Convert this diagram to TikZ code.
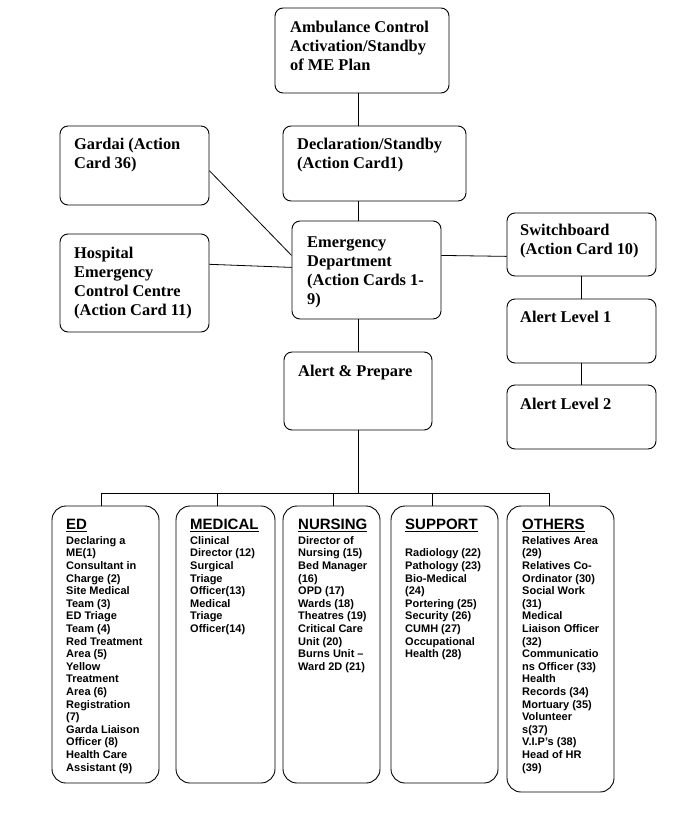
\documentclass[tikz,border=0pt]{standalone}
\usepackage{fontspec}
\setmainfont{Liberation Serif}
\setsansfont{Liberation Sans}
\begin{document}
\begin{tikzpicture}[x=1pt,y=-1pt,
  box/.style={draw, line width=0.9pt, rounded corners=8pt, inner sep=0pt},
  bbox/.style={draw, line width=0.9pt, rounded corners=14pt, inner sep=0pt},
  ttxt/.style={anchor=north west, inner sep=0pt, align=left, font=\fontsize{16.4}{19.2}\selectfont\bfseries},
  htxt/.style={anchor=base west, inner sep=0pt, font=\fontsize{15}{15}\selectfont\sffamily\bfseries},
  btxt/.style={anchor=north west, inner sep=0pt, align=left, font=\fontsize{11}{12.6}\selectfont\sffamily\bfseries},
  conn/.style={line width=0.8pt}]
\fill[white] (0,0) rectangle (680,825);
\useasboundingbox (0,0) rectangle (680,825);

% top boxes
\node[box, minimum width=174pt, minimum height=85pt] (amb) at (362,50.5) {};
\node[box, minimum width=183pt, minimum height=75pt] (decl) at (374.5,163.5) {};
\node[box, minimum width=149pt, minimum height=79pt] (gardai) at (134.5,165.5) {};
\node[box, minimum width=149pt, minimum height=98pt] (hosp) at (134.5,283) {};
\node[box, minimum width=149pt, minimum height=98pt] (ed) at (366.5,270) {};
\node[box, minimum width=148pt, minimum height=78pt] (ap) at (358,391) {};
\node[box, minimum width=149pt, minimum height=63pt] (sw) at (581.5,244.5) {};
\node[box, minimum width=149pt, minimum height=64pt] (al1) at (581.5,331) {};
\node[box, minimum width=149pt, minimum height=64pt] (al2) at (581.5,417) {};

\node[ttxt] (ambt) at (290,20) {\rule{0pt}{12pt}Ambulance Control\\Activation/Standby\\of ME Plan};
\node[ttxt] (declt) at (297,137) {\rule{0pt}{12pt}Declaration/Standby\\(Action Card1)};
\node[ttxt] (gardait) at (74,137) {\rule{0pt}{12pt}Gardai (Action\\Card 36)};
\node[ttxt] (hospt) at (74,246) {\rule{0pt}{12pt}Hospital\\Emergency\\Control Centre\\(Action Card 11)};
\node[ttxt] (edt) at (307,235) {\rule{0pt}{12pt}Emergency\\Department\\(Action Cards 1-\\9)};
\node[ttxt] (apt) at (298,364) {\rule{0pt}{12pt}Alert \& Prepare};
\node[ttxt] (swt) at (520,223) {\rule{0pt}{12pt}Switchboard\\(Action Card 10)};
\node[ttxt] (al1t) at (520,310) {\rule{0pt}{12pt}Alert Level 1};
\node[ttxt] (al2t) at (520,397) {\rule{0pt}{12pt}Alert Level 2};

% bottom boxes
\node[bbox, minimum width=107pt, minimum height=277pt] (edb) at (105.5,644.5) {};
\node[bbox, minimum width=99pt, minimum height=277pt] (medb) at (225.5,644.5) {};
\node[bbox, minimum width=97pt, minimum height=277pt] (nurb) at (331.5,644.5) {};
\node[bbox, minimum width=107pt, minimum height=277pt] (supb) at (444.5,644.5) {};
\node[bbox, minimum width=107pt, minimum height=286pt] (othb) at (560.5,649) {};

\node[htxt] (edh) at (66,529.5) {\underline{ED}};
\node[htxt] (medh) at (190,529.5) {\underline{MEDICAL}};
\node[htxt] (nurh) at (298,529.5) {\underline{NURSING}};
\node[htxt] (suph) at (405,529.5) {\underline{SUPPORT}};
\node[htxt] (othh) at (522,529.5) {\underline{OTHERS}};

\node[btxt] (edl) at (66,535) {\rule{0pt}{9pt}Declaring a\\ME(1)\\Consultant in\\Charge (2)\\Site Medical\\Team (3)\\ED Triage\\Team (4)\\Red Treatment\\Area (5)\\Yellow\\Treatment\\Area (6)\\Registration\\(7)\\Garda Liaison\\Officer (8)\\Health Care\\Assistant (9)};
\node[btxt] (medl) at (190,535) {\rule{0pt}{9pt}Clinical\\Director (12)\\Surgical\\Triage\\Officer(13)\\Medical\\Triage\\Officer(14)};
\node[btxt] (nurl) at (298,535) {\rule{0pt}{9pt}Director of\\Nursing (15)\\Bed Manager\\(16)\\OPD (17)\\Wards (18)\\Theatres (19)\\Critical Care\\Unit (20)\\Burns Unit --\\Ward 2D (21)};
\node[btxt] (supl) at (405,547.6) {\rule{0pt}{9pt}Radiology (22)\\Pathology (23)\\Bio-Medical\\(24)\\Portering (25)\\Security (26)\\CUMH (27)\\Occupational\\Health (28)};
\node[btxt] (othl) at (522,535) {\rule{0pt}{9pt}Relatives Area\\(29)\\Relatives Co-\\Ordinator (30)\\Social Work\\(31)\\Medical\\Liaison Officer\\(32)\\Communicatio\\ns Officer (33)\\Health\\Records (34)\\Mortuary (35)\\Volunteer\\s(37)\\V.I.P's (38)\\Head of HR\\(39)};

% connectors
\coordinate (spine) at (358,0);
\coordinate (bus) at (358,493);
\coordinate (d1) at (101,493);
\coordinate (d2) at (217,493);
\coordinate (d3) at (333,493);
\coordinate (d4) at (432,493);
\coordinate (d5) at (549,493);

\draw[conn] (amb.south -| spine) -- (decl.north -| spine);
\draw[conn] (decl.south -| spine) -- (ed.north -| spine);
\draw[conn] (ed.south -| spine) -- (ap.north -| spine);
\draw[conn] (ap.south -| spine) -- (bus);
\draw[conn] (gardai.-4) -- (ed.169);
\draw[conn] (hosp.14) -- (ed.178);
\draw[conn] (ed.11) -- (sw.189);
\draw[conn] (sw.south) -- (al1.north);
\draw[conn] (al1.south) -- (al2.north);
\draw[conn] (d1) -- (d5);
\draw[conn] (d1) -- (edb.north -| d1);
\draw[conn] (d2) -- (medb.north -| d2);
\draw[conn] (d3) -- (nurb.north -| d3);
\draw[conn] (d4) -- (supb.north -| d4);
\draw[conn] (d5) -- (othb.north -| d5);
\end{tikzpicture}
\end{document}
